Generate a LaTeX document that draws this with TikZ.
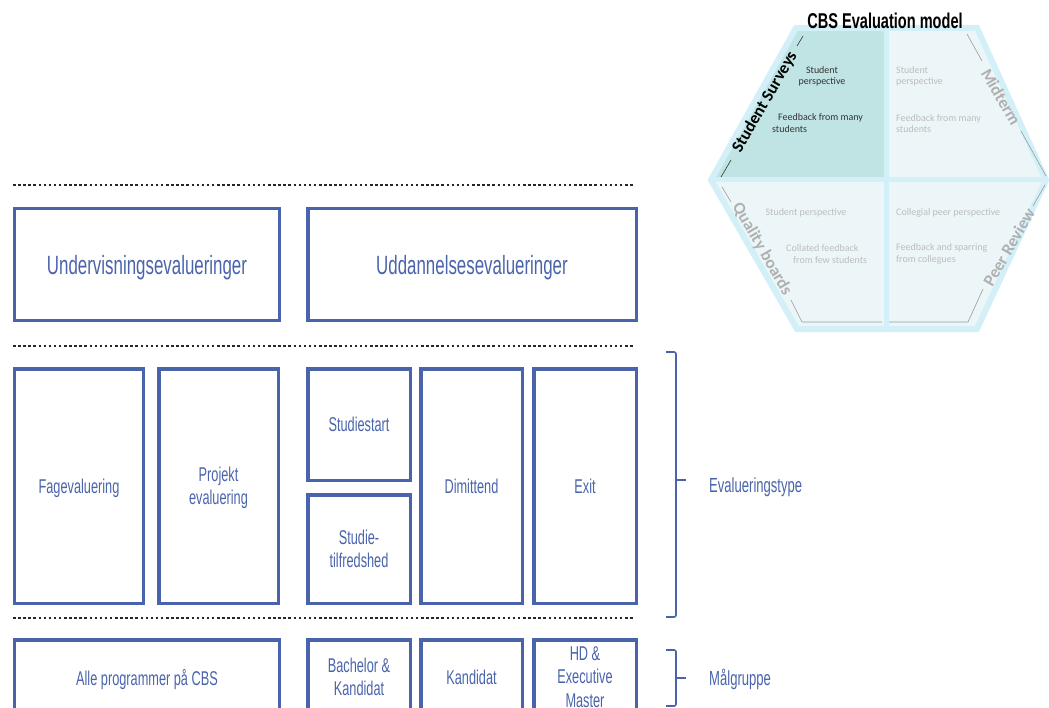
\documentclass[tikz,border=0pt]{standalone}
\usepackage{fontspec}
\setmainfont{Liberation Sans}
\newfontfamily\condfont[FakeStretch=0.64]{Liberation Sans}
\newfontfamily\titlefont[FakeStretch=0.68]{Liberation Sans}
\newfontfamily\calfont{Carlito}
\usetikzlibrary{calc}
\definecolor{boxblue}{HTML}{4A64AC}
\definecolor{hexborder}{HTML}{D3EFF7}
\definecolor{tealfill}{HTML}{C0E4E4}
\definecolor{lightfill}{HTML}{ECF6F8}
\definecolor{labelgray}{HTML}{B0B0B0}
\definecolor{txtgray}{HTML}{BDBDBD}
\definecolor{edgegray}{HTML}{9A9A9A}
\begin{document}
\begin{tikzpicture}[x=1bp,y=-1bp,
 box/.style={draw=boxblue, line width=3.5bp, inner sep=0pt, text=boxblue, align=center, text depth=0pt, font=\condfont\fontsize{20}{23.5}\selectfont},
 bigbox/.style={box, font=\condfont\fontsize{26.5}{30}\selectfont},
 dotline/.style={line width=2.6bp, dash pattern=on 2.5bp off 2.6bp, draw=black!85},
 brace/.style={draw=boxblue, line width=1.6bp, rounded corners=2bp},
 sidelabel/.style={anchor=base west, inner sep=0pt, text=boxblue, font=\condfont\fontsize{20.5}{23}\selectfont},
 hexlabel/.style={inner sep=0pt, font=\calfont\bfseries\fontsize{17}{20}\selectfont},
 hextext/.style={inner sep=0pt, font=\calfont\fontsize{10}{11.5}\selectfont, text=txtgray},
 thinedge/.style={draw=edgegray, line width=0.6bp},
]
\useasboundingbox (0,0) rectangle (1049,708);
\clip (0,0) rectangle (1049,708);

% dotted separators
\coordinate (d1a) at (13,185); \coordinate (d1b) at (635,185);
\coordinate (d2a) at (13,346); \coordinate (d2b) at (635,346);
\coordinate (d3a) at (13,618); \coordinate (d3b) at (635,618);
\draw[dotline] (d1a) -- (d1b);
\draw[dotline] (d2a) -- (d2b);
\draw[dotline] (d3a) -- (d3b);

% row 1
\node[bigbox, minimum width=264.5bp, minimum height=111.5bp] (under) at (147,264.5) {Undervisningsevalueringer};
\node[bigbox, minimum width=328.5bp, minimum height=111.5bp] (uddan) at (472,264.5) {Uddannelsesevalueringer};

% row 2
\node[box, minimum width=128.5bp, minimum height=234.5bp] (fag) at (79,486) {Fagevaluering};
\node[box, minimum width=119.5bp, minimum height=234.5bp] (proj) at (218.5,486) {Projekt\\evaluering};
\node[box, minimum width=102.5bp, minimum height=111.5bp] (start) at (359,424.5) {Studiestart};
\node[box, minimum width=102.5bp, minimum height=108.5bp] (tilf) at (359,549) {Studie-\\tilfredshed};
\node[box, minimum width=101.5bp, minimum height=234.5bp] (dim) at (471.5,486) {Dimittend};
\node[box, minimum width=102.5bp, minimum height=234.5bp] (exit) at (585,486) {Exit};

% row 3
\node[box, minimum width=264.5bp, minimum height=74.5bp] (alle) at (147,677) {Alle programmer på CBS};
\node[box, minimum width=102.5bp, minimum height=74.5bp] (bach) at (359,677) {Bachelor \&\\Kandidat};
\node[box, minimum width=101.5bp, minimum height=74.5bp] (kand) at (471.5,677) {Kandidat};
\node[box, minimum width=102.5bp, minimum height=74.5bp] (hd) at (585,677) {HD \&\\Executive\\Master};

% braces
\draw[brace] (666,352) -- (676,352) -- (676,617) -- (666,617);
\draw[brace] (676,480) -- (686,480);
\draw[brace] (666,650) -- (676,650) -- (676,706) -- (666,706);
\draw[brace] (676,678) -- (686,678);
\node[sidelabel] (evtype) at (709,492) {Evalueringstype};
\node[sidelabel] (malgr) at (709,685) {Målgruppe};

% hexagon
\coordinate (hL) at (711,180);
\coordinate (hTL) at (796,28);
\coordinate (hTR) at (977,28);
\coordinate (hR) at (1046,180);
\coordinate (hBR) at (977,329);
\coordinate (hBL) at (797,329);
\coordinate (hT) at (886,28);
\coordinate (hB) at (886,329);
\coordinate (hC) at (886,180);
\fill[tealfill] (hL) -- (hTL) -- (hT) -- (hC) -- cycle;
\fill[lightfill] (hT) -- (hTR) -- (hR) -- (hC) -- cycle;
\fill[lightfill] (hL) -- (hC) -- (hB) -- (hBL) -- cycle;
\fill[lightfill] (hC) -- (hR) -- (hBR) -- (hB) -- cycle;
\draw[hexborder, line width=6bp, line join=miter] (hL) -- (hTL) -- (hTR) -- (hR) -- (hBR) -- (hBL) -- cycle;
\draw[hexborder, line width=5bp] (hT) -- (hB);
\draw[hexborder, line width=5bp] (hL) -- (hR);

\node[font=\titlefont\bfseries\fontsize{21.5}{24}\selectfont, inner sep=0pt] (title) at (885,21) {CBS Evaluation model};

% edge labels and thin lines
\node[hexlabel, rotate=60, text=black] (ss) at (765,102) {Student Surveys};
\draw[thinedge, draw=black!80] (721,177) -- (731,160);
\draw[thinedge, draw=black!80] (797,46) -- (803,36);
\node[hexlabel, rotate=-60, text=labelgray] (mid) at (1001,97) {Midterm};
\draw[thinedge] (967,34) -- (982,61);
\draw[thinedge] (1021,131) -- (1046,176);
\node[hexlabel, rotate=-60, text=labelgray] (qb) at (762,249) {Quality boards};
\draw[thinedge] (722,187) -- (731,202);
\draw[thinedge] (791,300) -- (802,322) -- (882,322);
\node[hexlabel, rotate=60, text=labelgray] (pr) at (1009,247) {Peer Review};
\draw[thinedge] (1045,185) -- (1033,206);
\draw[thinedge] (983,289) -- (968,322) -- (889,322);

% quadrant texts
\node[hextext, text=black!80, align=center] (tlA) at (822,76.5) {Student\\perspective};
\node[hextext, text=black!80, anchor=west] (tlB) at (778,118) {Feedback from many};
\node[hextext, text=black!80, anchor=west] (tlC) at (772,129.5) {students};
\node[hextext, align=left, anchor=west] (trA) at (896,76.5) {Student\\perspective};
\node[hextext, align=left, anchor=west] (trB) at (896,123.5) {Feedback from many\\students};
\node[hextext] (blA) at (806,213) {Student perspective};
\node[hextext, anchor=west] (blB) at (786,248) {Collated feedback};
\node[hextext, anchor=west] (blC) at (793,260) {from few students};
\node[hextext, anchor=west] (brA) at (896,213) {Collegial peer perspective};
\node[hextext, align=left, anchor=west] (brB) at (896,254) {Feedback and sparring\\from collegues};
\end{tikzpicture}
\end{document}
